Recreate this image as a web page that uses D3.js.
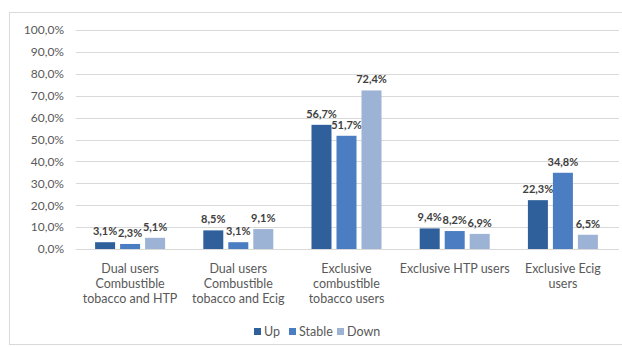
<!DOCTYPE html>
<html><head><meta charset="utf-8">
<script src="https://cdn.jsdelivr.net/npm/d3@7"></script>
<style>body{margin:0;background:#fff;}svg{display:block;font-family:Lato,"Open Sans",sans-serif;}</style>
</head><body><svg id="c" width="622" height="347"></svg>
<script>
const categories = [
  ["Dual users","Combustible","tobacco and HTP"],
  ["Dual users","Combustible","tobacco and Ecig"],
  ["Exclusive","combustible","tobacco users"],
  ["Exclusive HTP users"],
  ["Exclusive Ecig","users"]
];
const seriesNames = ["Up","Stable","Down"];
const upValues = [3.1, 8.5, 56.7, 9.4, 22.3];
const stableValues = [2.3, 3.1, 51.7, 8.2, 34.8];
const downValues = [5.1, 9.1, 72.4, 6.9, 6.5];
const yTicks = [0,10,20,30,40,50,60,70,80,90,100];
const colors = ["#2f609c","#4a7dc2","#9cb3d6"];

const series = [upValues, stableValues, downValues];
const svg = d3.select("#c");
const fmt = v => d3.format(".1f")(v).replace(".", ",") + "%";

// frame
svg.append("rect").attr("x",9.5).attr("y",12.5).attr("width",640).attr("height",332)
  .attr("fill","none").attr("stroke","#d9d9d9");

const x0 = d3.scaleBand().domain(d3.range(categories.length)).range([76, 617]);
const y = d3.scaleLinear().domain([0,100]).range([249, 30]);

// gridlines
svg.append("g").selectAll("line").data(yTicks).join("line")
  .attr("x1",76).attr("x2",619)
  .attr("y1",d=>Math.round(y(d))+0.5).attr("y2",d=>Math.round(y(d))+0.5)
  .attr("stroke","#d9d9d9").attr("stroke-width",1);

// y axis labels
const yAxis = d3.axisLeft(y).tickValues(yTicks).tickSize(0).tickPadding(0).tickFormat(fmt);
const ya = svg.append("g").attr("transform","translate(64,0)").call(yAxis);
ya.select(".domain").remove();
ya.selectAll("text").attr("fill","#595959").style("font-size","12px").style("font-family","Lato,sans-serif");

// bars
const g = svg.append("g");
categories.forEach((c, i) => {
  const cx = x0(i) + x0.bandwidth()/2;
  const x1 = d3.scaleBand().domain(d3.range(3)).range([cx-35, cx+35]).paddingInner(0.2).paddingOuter(0);
  series.forEach((s, j) => {
    const v = s[i];
    g.append("rect").attr("x", x1(j)).attr("width", x1.bandwidth())
      .attr("y", y(v)).attr("height", y(0)-y(v)).attr("fill", colors[j]);
    g.append("text").attr("x", x1(j)+x1.bandwidth()/2).attr("y", y(v)-7)
      .attr("text-anchor","middle").attr("fill","#404040")
      .style("font-size","11px").style("font-weight","bold").text(fmt(v));
  });
  const t = svg.append("text").attr("text-anchor","middle").attr("fill","#595959").style("font-size","12.5px");
  c.forEach((line, k) => {
    t.append("tspan").attr("x", cx).attr("y", 273 + k*15).text(line);
  });
});

// legend
const legendX = [254, 289, 337];
const lg = svg.append("g");
seriesNames.forEach((n, j) => {
  lg.append("rect").attr("x", legendX[j]).attr("y", 328).attr("width",7).attr("height",7).attr("fill",colors[j]);
  lg.append("text").attr("x", legendX[j]+10).attr("y", 335.5).attr("fill","#595959")
    .style("font-size","12.5px").text(n);
});
</script></body></html>
